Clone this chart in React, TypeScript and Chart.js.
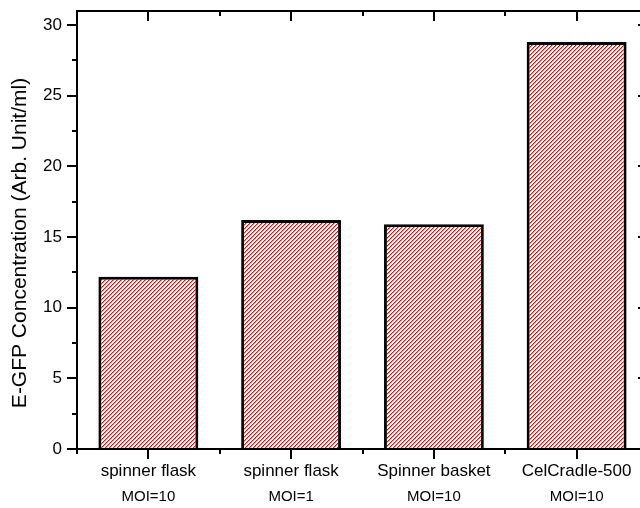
import React, { useEffect, useRef } from "react";
import { Chart, registerables } from "chart.js";

Chart.register(...registerables);

const categories = ["spinner flask", "spinner flask", "Spinner basket", "CelCradle-500"];
const moiLabels = ["MOI=10", "MOI=1", "MOI=10", "MOI=10"];
const concentrations = [12.2, 16.2, 15.9, 28.8];
const yTickValues = [0, 5, 10, 15, 20, 25, 30];
const yMinorStep = 2.5;
const yMax = 31;
const yTitle = "E-GFP Concentration (Arb. Unit/ml)";

const FONT = "'Liberation Sans', Arial, sans-serif";

function makeHatch(): CanvasPattern | string {
  const s = 4;
  const c = document.createElement("canvas");
  c.width = s;
  c.height = s;
  const g = c.getContext("2d");
  if (!g) return "#f00";
  g.fillStyle = "#fff";
  g.fillRect(0, 0, s, s);
  for (let i = 0; i < s; i++) {
    for (let j = 0; j < s; j++) {
      const k = (i + j) % s;
      if (k === 0) {
        g.fillStyle = "rgb(255,0,0)";
        g.fillRect(i, j, 1, 1);
      } else if (k === 1) {
        g.fillStyle = "rgb(255,150,150)";
        g.fillRect(i, j, 1, 1);
      }
    }
  }
  const p = g.createPattern(c, "repeat");
  return p || "#f00";
}

const framePlugin = {
  id: "frame",
  afterDatasetsDraw(chart: any) {
    const { ctx, chartArea, scales } = chart;
    const { left, right, top, bottom } = chartArea;
    const x = scales.x;
    const y = scales.y;
    const line = (x1: number, y1: number, x2: number, y2: number) => {
      ctx.beginPath();
      ctx.moveTo(x1, y1);
      ctx.lineTo(x2, y2);
      ctx.stroke();
    };
    ctx.save();
    ctx.strokeStyle = "#000";
    ctx.lineWidth = 2;
    ctx.strokeRect(left, top, right - left, bottom - top);
    for (let v = 0; v <= yMax + 1e-9; v += yMinorStep) {
      const py = Math.round(y.getPixelForValue(v));
      const major = yTickValues.includes(v);
      const len = major ? 10 : 5;
      line(left - len, py, left, py);
      line(right - len, py, right, py);
    }
    const n = categories.length;
    for (let i = 0; i < n; i++) {
      const px = Math.round(x.getPixelForValue(i));
      line(px, bottom, px, bottom + 10);
      line(px, top, px, top + 10);
    }
    for (let i = 0; i <= n; i++) {
      const px = Math.round(x.getPixelForValue(i - 0.5));
      line(px, bottom, px, bottom + 5);
      line(px, top, px, top + 5);
    }
    ctx.fillStyle = "#000";
    ctx.font = `15px ${FONT}`;
    ctx.textAlign = "center";
    ctx.textBaseline = "middle";
    for (let i = 0; i < n; i++) {
      ctx.fillText(moiLabels[i], x.getPixelForValue(i), 497);
    }
    ctx.font = `21px ${FONT}`;
    ctx.translate(20, 243);
    ctx.rotate(-Math.PI / 2);
    ctx.fillText(yTitle, 0, 0);
    ctx.restore();
  },
};

export default function App() {
  const ref = useRef<HTMLCanvasElement | null>(null);
  useEffect(() => {
    if (!ref.current) return;
    const hatch = makeHatch();
    const chart = new Chart(ref.current, {
      type: "bar",
      data: {
        labels: categories,
        datasets: [
          {
            data: concentrations,
            backgroundColor: hatch as any,
            borderColor: "#000",
            borderWidth: 3,
            categoryPercentage: 1,
            barPercentage: 0.7,
          },
        ],
      },
      options: {
        animation: false,
        responsive: false,
        devicePixelRatio: 1,
        layout: { padding: { top: 11, right: 12, left: 0, bottom: 0 } },
        plugins: { legend: { display: false }, tooltip: { enabled: false } },
        scales: {
          x: {
            grid: { display: false, drawTicks: false },
            border: { display: false },
            ticks: {
              color: "#000",
              font: { family: FONT, size: 17 },
              padding: 12,
              autoSkip: false,
              maxRotation: 0,
            },
            afterFit: (s: any) => {
              s.height = 59;
              s.paddingLeft = 0;
              s.paddingRight = 0;
            },
          },
          y: {
            min: 0,
            max: yMax,
            grid: { display: false, drawTicks: false },
            border: { display: false },
            ticks: {
              color: "#000",
              font: { family: FONT, size: 17 },
              padding: 15,
            },
            afterBuildTicks: (s: any) => {
              s.ticks = yTickValues.map((v) => ({ value: v }));
            },
            afterFit: (s: any) => {
              s.width = 77;
              s.paddingTop = 0;
              s.paddingBottom = 0;
            },
          },
        },
      },
      plugins: [framePlugin],
    });
    return () => chart.destroy();
  }, []);
  return (
    <div
      style={{
        position: "fixed",
        left: 0,
        top: 0,
        width: 640,
        height: 508,
        overflow: "hidden",
        background: "#fff",
      }}
    >
      <canvas ref={ref} width={660} height={508} style={{ display: "block", width: 660, height: 508 }} />
    </div>
  );
}
